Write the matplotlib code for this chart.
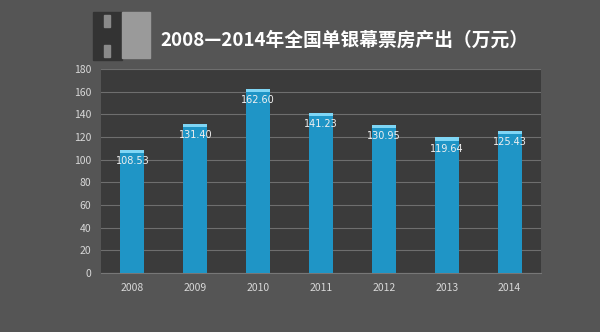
import matplotlib.pyplot as plt
import matplotlib.patches as mpatches

plt.rcParams['font.family'] = ['Noto Sans CJK SC', 'DejaVu Sans']

years = ["2008", "2009", "2010", "2011", "2012", "2013", "2014"]
output = [108.53, 131.40, 162.60, 141.23, 130.95, 119.64, 125.43]
labels = ["108.53", "131.40", "162.60", "141.23", "130.95", "119.64", "125.43"]

fig = plt.figure(figsize=(6, 3.32), dpi=100)
fig.patch.set_facecolor("#555555")
ax = fig.add_axes([101/600, 1 - 273/332, 440/600, 204/332])
ax.set_facecolor("#3b3b3b")

x = range(len(years))
ax.bar(x, output, width=0.38, color="#1f95c6", zorder=3)
# lighter cap on top of each bar
ax.bar(x, [3] * len(years), bottom=[v - 3 for v in output], width=0.38,
       color="#7fd6f5", zorder=4)
for i, v in enumerate(output):
    ax.text(i, v - 5.5, labels[i], ha="center", va="top", color="#f0f0f0",
            fontsize=7, zorder=5, family="DejaVu Sans")

ax.set_xlim(-0.5, len(years) - 0.5)
ax.set_ylim(0, 180)
ax.set_yticks(range(0, 181, 20))
ax.set_xticks(list(x))
ax.set_xticklabels(years)
ax.grid(axis="y", color="#6e6e6e", linewidth=0.8, zorder=0)
ax.tick_params(colors="#d8d8d8", labelsize=7.5, length=0, pad=7)
for s in ax.spines.values():
    s.set_visible(False)
ax.spines["bottom"].set_visible(True)
ax.spines["bottom"].set_color("#777777")

# logo
fig.patches.append(mpatches.Rectangle((93/600, 1 - 60/332), 29/600, 48/332,
                                      transform=fig.transFigure, color="#333333"))
fig.patches.append(mpatches.Rectangle((122/600, 1 - 58/332), 28/600, 46/332,
                                      transform=fig.transFigure, color="#9a9a9a"))
fig.patches.append(mpatches.Rectangle((104/600, 1 - 27/332), 6/600, 12/332,
                                      transform=fig.transFigure, color="#8a8a8a"))
fig.patches.append(mpatches.Rectangle((104/600, 1 - 57/332), 6/600, 12/332,
                                      transform=fig.transFigure, color="#8a8a8a"))

fig.text(160/600, 1 - 40/332, "2008—2014年全国单银幕票房产出（万元）",
         color="white", fontsize=13.5, fontweight="bold", va="center", ha="left")

fig.savefig("out.png", dpi=100, facecolor=fig.get_facecolor())
